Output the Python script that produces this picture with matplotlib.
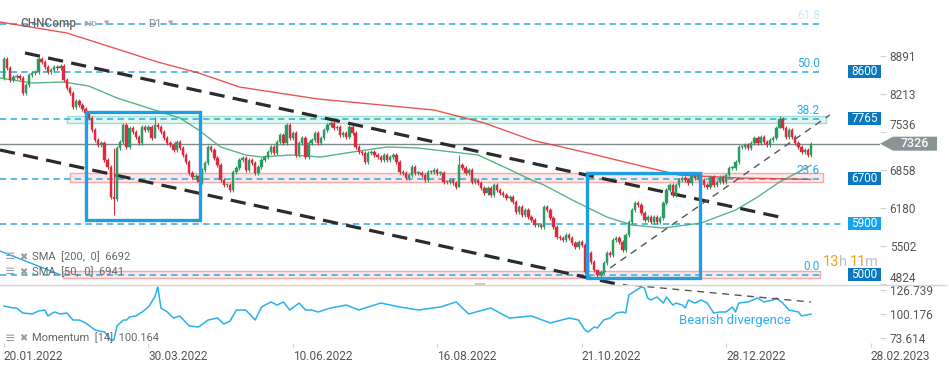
import matplotlib.pyplot as plt
from matplotlib.patches import Rectangle, Polygon
from matplotlib.lines import Line2D

plt.rcParams['font.family'] = ['Roboto', 'DejaVu Sans']
plt.rcParams['lines.scale_dashes'] = False

# ---------------- data ----------------
# daily closes, CHNComp D1, from 20.01.2022 to end of Jan 2023
first_open = 8493
closes = [
    8830, 8671, 8457, 8511, 8529, 8493, 8226, 8369, 8546, 8582,
    8600, 8830, 8777, 8689, 8600, 8635, 8689, 8671, 8706, 8457,
    8315, 8226, 7978, 8084, 8013, 7942, 7871, 7782, 7569, 7391,
    7302, 7338, 7036, 6911, 6378, 6343, 7249, 7356, 7658, 7267,
    7604, 7533, 7444, 7338, 7622, 7569, 7622, 7427, 7658, 7622,
    7533, 7427, 7338, 7302, 7214, 7356, 7249, 7125, 7000, 6805,
    6734, 6751, 6645, 6858, 6982, 7267, 7214, 7071, 6947, 6680,
    6592, 6592, 6503, 6822, 6893, 7036, 7071, 6858, 7036, 6982,
    6805, 6911, 7036, 7089, 7178, 7267, 7160, 7356, 7480, 7338,
    7658, 7427, 7515, 7125, 7338, 7427, 7089, 7338, 7391, 7515,
    7338, 7427, 7569, 7658, 7693, 7604, 7622, 7480, 7515, 7444,
    7622, 7515, 7267, 7178, 7160, 7000, 7160, 7178, 7125, 7089,
    7036, 7125, 7036, 7089, 7125, 7000, 6822, 6805, 6716, 6769,
    6911, 6805, 6805, 6769, 6680, 6822, 6822, 6858, 6805, 6805,
    6645, 6645, 6680, 6627, 6556, 6947, 6893, 6805, 6858, 6645,
    6680, 6627, 6538, 6449, 6538, 6414, 6592, 6503, 6449, 6414,
    6360, 6378, 6289, 6112, 6201, 6058, 6147, 6023, 5970, 5881,
    5881, 5845, 6201, 6147, 6005, 5845, 5667, 5649, 5614, 5703,
    5649, 5561, 5490, 5578, 5525, 5046, 5383, 5223, 5081, 4992,
    5046, 5206, 5383, 5348, 5614, 5649, 5578, 5436, 5703, 5934,
    6147, 6272, 6236, 6094, 5970, 6023, 5934, 6023, 5934, 6005,
    6272, 6503, 6592, 6414, 6592, 6680, 6716, 6680, 6627, 6751,
    6716, 6769, 6680, 6592, 6556, 6734, 6592, 6645, 6734, 6645,
    6769, 6893, 6893, 7000, 7267, 7267, 7302, 7249, 7338, 7427,
    7338, 7444, 7356, 7302, 7391, 7427, 7604, 7764, 7604, 7444,
    7569, 7444, 7338, 7267, 7178, 7214, 7125, 7326,
]
# a few long wicks: index -> (low, high)
long_wicks = {35: (6058, 7249), 48: (7427, 7800), 145: (6556, 7125),
              189: (4950, 5081), 247: (7604, 7818)}

sma200_idx = [-1.3, 20, 49, 62, 75, 100, 137, 153, 168, 186, 203, 215, 234, 257]
sma200_val = [9488, 9293, 8777, 8582, 8333, 8120, 7924, 7693, 7391, 7160, 6929, 6769, 6716, 6692]

sma50_idx = [-1.3, 9, 19, 27, 36, 46, 56, 62, 69, 77, 82, 91, 101, 111, 122, 132,
             140, 151, 160, 168, 172, 181, 192, 200, 210, 222, 233, 240, 247, 257]
sma50_val = [8493, 8404, 8422, 8351, 8138, 7960, 7782, 7569, 7267, 7125, 7089, 7125, 7089,
             7178, 7267, 7249, 7196, 7125, 6893, 6680, 6592, 6325, 6023, 5881, 5827, 5916,
             6147, 6378, 6645, 6941]

mom_idx = [0, 3, 4, 6, 9, 11, 13, 14, 16, 18, 20, 22, 24, 26, 29, 32, 34, 35, 36, 38,
           39, 40, 42, 44, 46, 48, 49, 50, 52, 54, 56, 59, 62, 65, 68, 70, 72, 74, 77, 80,
           82, 85, 87, 89, 91, 94, 96, 98, 100, 104, 109, 113, 120, 126, 132, 139, 144, 148,
           155, 161, 168, 174, 180, 183, 185, 186, 188, 189, 191, 193, 195, 197, 198, 199,
           200, 203, 204, 205, 206, 208, 210, 211, 213, 214, 216, 217, 218, 220, 222, 224,
           226, 228, 230, 232, 233, 234, 237, 240, 242, 245, 246, 248, 250, 253, 254, 257]
mom_val = [109.0, 106.8, 106.8, 101.3, 100.2, 103.5, 104.6, 98.0, 102.4, 100.2, 101.3, 93.5,
           93.5, 90.2, 82.5, 80.3, 71.4, 71.4, 86.9, 93.5, 93.5, 96.9, 98.0, 102.4, 107.9,
           118.9, 130.1, 106.8, 102.4, 95.7, 98.0, 86.9, 85.8, 93.5, 95.7, 89.1, 92.4, 104.6,
           104.6, 93.5, 107.9, 113.5, 110.1, 113.5, 104.6, 112.3, 104.6, 104.6, 102.4, 106.8,
           110.1, 104.6, 112.3, 108.0, 104.6, 107.9, 113.5, 100.2, 106.8, 95.7, 98.0, 90.2,
           95.7, 93.5, 82.5, 80.3, 85.8, 84.7, 93.5, 95.7, 101.3, 102.4, 101.3, 121.2, 123.4,
           130.1, 129.0, 117.9, 115.7, 119.0, 112.3, 119.0, 110.1, 112.3, 110.1, 106.8, 115.7,
           112.3, 115.7, 112.3, 101.3, 102.4, 102.4, 107.9, 102.4, 112.3, 113.5, 117.9, 113.5,
           115.7, 117.9, 112.3, 104.6, 102.4, 98.0, 100.164]

level_prices = [9450, 8600, 7765, 6700, 5900, 5000]
fib_prices = [9450, 8600, 7765, 6700, 5000]
fib_labels = ['61.8', '50.0', '38.2', '23.6', '0.0']
box_prices = [8600, 7765, 6700, 5900, 5000]
last_price = 7326
sma200_last, sma50_last, mom_last = 6692, 6941, 100.164

price_ticks = [8891, 8213, 7536, 6858, 6180, 5502, 4824]
mom_ticks = [126.739, 100.176, 73.614]
date_idx = [0, 46, 92, 138, 184, 230, 276]
date_labels = ['20.01.2022', '30.03.2022', '10.06.2022', '16.08.2022',
               '21.10.2022', '28.12.2022', '28.02.2023']

# ---------------- figure ----------------
W, H = 949, 370
fig = plt.figure(figsize=(W / 100, H / 100), dpi=100)
fx = lambda px: px / W
fy = lambda py: 1 - py / H

ax = fig.add_axes([0, fy(284.5), fx(880), 284.5 / H])
axm = fig.add_axes([0, fy(343), fx(880), (343 - 284.5) / H])
XL = (-1.27, 279.0)
for a in (ax, axm):
    a.set_xlim(*XL)
    for s in a.spines.values():
        s.set_visible(False)
ax.set_ylim(4824, 9879)
axm.set_ylim(68.07, 132.83)

BLUE = '#2aa9e6'
GREEN = '#2a9b63'
RED = '#db2b3c'

# bands
ax.add_patch(Rectangle((20.1, 7693), 241.7, 125, fc='#e3f6ef', ec='#9fe0c8', lw=1, zorder=1))
ax.add_patch(Rectangle((21, 6645), 240, 160, fc='#fde8e8', ec='#f2aaaa', lw=1, zorder=1))
ax.add_patch(Rectangle((18.8, 4940), 241, 124, fc='#fde8e8', ec='#f2aaaa', lw=1, zorder=1))

# horizontal dashed levels
for p in level_prices:
    x1 = 267 if p == 5900 else 260.8
    ax.plot([XL[0], x1], [p, p], color=BLUE, lw=1.1, ls=(0, (4.5, 3.2)), zorder=2)

# fib diagonal
ax.plot([-1.27, 17.8], [5419, 5000], color=BLUE, lw=1, zorder=2)

# current price line
ax.axhline(last_price, color='#7d8a8e', lw=1, zorder=2)

# SMAs
ax.plot(sma200_idx, sma200_val, color='#e53935', lw=1, alpha=0.85, zorder=3)
ax.plot(sma50_idx, sma50_val, color='#3aa872', lw=1, alpha=0.85, zorder=3)

# channel lines
ax.plot([6.7, 247], [8938, 6023], color='#2b2b2b', lw=2.3, ls=(0, (11, 6)), zorder=4)
ax.plot([-1.27, 202.5], [7214, 4744], color='#2b2b2b', lw=2.3, ls=(0, (11, 6)), zorder=4)
ax.plot([189.8, 263], [4992, 7836], color='#555555', lw=1, ls=(0, (5, 4)), zorder=4)

# candles
opens = [first_open] + closes[:-1]
for i, (o, c) in enumerate(zip(opens, closes)):
    col = GREEN if c >= o else RED
    lo, hi = min(o, c), max(o, c)
    wl, wh = long_wicks.get(i, (lo - 30, hi + 30))
    ax.vlines(i, wl, wh, color=col, lw=0.8, zorder=5)
    ax.add_patch(Rectangle((i - 0.38, lo), 0.76, max(hi - lo, 18), fc=col, ec=col, lw=0.3, zorder=6))

# blue boxes
ax.add_patch(Rectangle((26.1, 5970), 36.3, 1919, fill=False, ec='#1e9fe3', lw=2.4, zorder=7))
ax.add_patch(Rectangle((185.7, 4939), 36.0, 1866, fill=False, ec='#1e9fe3', lw=2.4, zorder=7))

# fib labels
for p, t in zip(fib_prices, fib_labels):
    ax.text(259.9, p + 150, t, ha='right', va='center', fontsize=8.5, color=BLUE,
            alpha=0.25 if t == '61.8' else 1, zorder=8)

# legend texts
for yy, txt in [(0.097, f'SMA  [200,  0]  {sma200_last}'), (0.044, f'SMA  [50,  0]  {sma50_last}')]:
    ax.text(fx(5) / fx(880), yy, '\u2261', transform=ax.transAxes, fontsize=9, color='#999',
            va='center', family='DejaVu Sans')
    ax.text(fx(19) / fx(880), yy, '\u2716', transform=ax.transAxes, fontsize=7, color='#999',
            va='center', family='DejaVu Sans')
    ax.text(fx(32) / fx(880), yy, txt, transform=ax.transAxes, fontsize=8, color='#666', va='center')

# right price axis
ax.yaxis.tick_right()
ax.set_yticks(price_ticks)
ax.set_yticklabels([str(t) for t in price_ticks])
ax.tick_params(axis='y', length=4, width=0.8, color='#d0d0d0', labelcolor='#555', labelsize=8.5, pad=3)
for lbl in ax.get_yticklabels():
    if lbl.get_text() == '4824':
        lbl.set_va('bottom')
    if lbl.get_text() == '7536':
        lbl.set_va('bottom')
ax.set_xticks([])

# momentum panel
axm.plot(mom_idx, mom_val, color='#29b0ee', lw=1.1, zorder=3)
axm.plot([197, 257], [133, 113.4], color='#555555', lw=1, ls=(0, (5, 4)), zorder=4)
axm.text(215, 93.0, 'Bearish divergence', fontsize=9.5, color='#29b0ee', ha='left', va='center')
axm.text(fx(5) / fx(880), 0.085, '\u2261', transform=axm.transAxes, fontsize=9, color='#999',
         va='center', family='DejaVu Sans')
axm.text(fx(19) / fx(880), 0.085, '\u2716', transform=axm.transAxes, fontsize=7, color='#999',
         va='center', family='DejaVu Sans')
axm.text(fx(32) / fx(880), 0.085, f'Momentum  [14]  {mom_last}', transform=axm.transAxes,
         fontsize=8, color='#666', va='center')
axm.yaxis.tick_right()
axm.set_yticks(mom_ticks)
axm.set_yticklabels([f'{t:.3f}' for t in mom_ticks])
axm.tick_params(axis='y', length=4, width=0.8, color='#d0d0d0', labelcolor='#555', labelsize=8.5, pad=3)
axm.set_xticks(date_idx)
axm.set_xticklabels(date_labels)
axm.tick_params(axis='x', length=3, width=0.8, color='#d0d0d0', labelcolor='#555', labelsize=8.6, pad=2)
for lbl in axm.get_xticklabels():
    lbl.set_ha('left')

# panel separator
fig.add_artist(Line2D([0, fx(946)], [fy(284.5)] * 2, color='#d6d6d6', lw=1))
fig.add_artist(Rectangle((fx(475), fy(285)), fx(10), 2 / H, fc='#c8c8c8', ec='none'))

# price boxes on the right
def py_of(price):
    return fig.transFigure.inverted().transform(ax.transData.transform((0, price)))[1]

for p in box_prices:
    col = '#14a3ec' if p == 5900 else '#0b78bd'
    yc = py_of(p)
    fig.add_artist(Rectangle((fx(848), yc - 6.5 / H), fx(33), 13 / H, fc=col, ec='none'))
    fig.text(fx(864.5), yc, str(p), color='white', fontsize=8.5, ha='center', va='center')

yc = py_of(last_price)
fig.add_artist(Polygon([(fx(880), yc), (fx(893), yc + 7 / H), (fx(937), yc + 7 / H),
                        (fx(937), yc - 7 / H), (fx(893), yc - 7 / H)],
                       closed=True, fc='#8a9396', ec='none'))
fig.text(fx(915), yc, str(last_price), color='white', fontsize=9, ha='center', va='center',
         weight='medium')

# countdown
for x0, t, c in [(823, '13', '#f5a11c'), (839, 'h', '#c0c0c0'), (850, '11', '#f5a11c'), (865, 'm', '#c0c0c0')]:
    fig.text(fx(x0), fy(266.5), t, color=c, fontsize=10.5, ha='left', va='baseline')

# header
fig.text(fx(20), fy(24), 'CHNComp', color='#666', fontsize=8.5, va='center', weight='medium')
fig.text(fx(83), fy(24), 'IND', color='#aaa', fontsize=6, va='center', weight='bold')
fig.text(fx(104), fy(23), '\u25bc', color='#aaa', fontsize=5, va='center', family='DejaVu Sans')
fig.text(fx(148), fy(24), 'D1', color='#888', fontsize=8, va='center')
fig.text(fx(168), fy(23), '\u25bc', color='#aaa', fontsize=5, va='center', family='DejaVu Sans')

fig.savefig('out.png', dpi=100, facecolor='white')
